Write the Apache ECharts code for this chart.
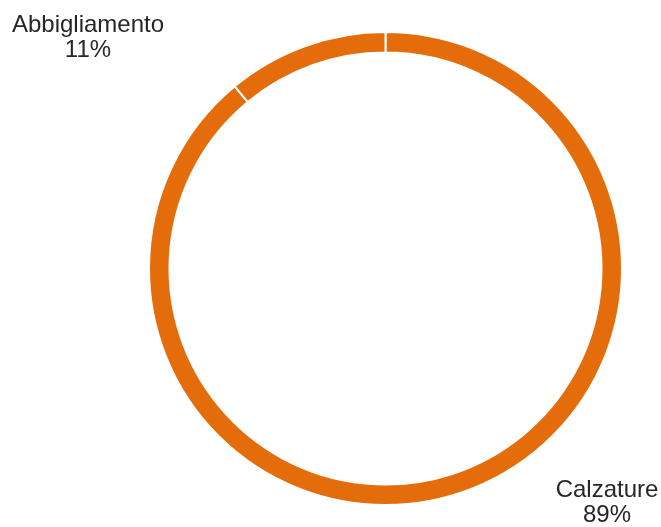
<!DOCTYPE html>
<html>
<head>
<meta charset="utf-8">
<script src="https://cdn.jsdelivr.net/npm/echarts@6/dist/echarts.min.js"></script>
<style>
  html, body { margin: 0; padding: 0; background: #fff; }
  #chart { width: 661px; height: 527px; }
</style>
</head>
<body>
<div id="chart"></div>
<script>
// categories and values (percent of total)
const categories = ['Calzature', 'Abbigliamento']
const values = [89, 11]

// where each label sits (Excel-style manual placement)
const labelSpots = [
  { x: 607, y: 503 },
  { x: 88, y: 38 },
]

let mychart = echarts.init(document.getElementById('chart'))
let option = {
  animation: false,
  series: [
    {
      type: 'pie',
      center: [385.5, 268.5],
      radius: [216, 236.5],
      startAngle: 90,
      clockwise: true,
      percentPrecision: 0,
      color: ['#E46C0A'],
      data: categories.map((name, i) => ({ name: name, value: values[i] })),
      itemStyle: {
        color: '#E46C0A',
        borderColor: '#ffffff',
        borderWidth: 2,
      },
      label: {
        show: true,
        formatter: '{b}\n{d}%',
        fontFamily: 'Liberation Sans, Arial, sans-serif',
        fontSize: 24,
        lineHeight: 25,
        color: '#262626',
        align: 'center',
      },
      labelLine: { show: false },
      labelLayout: function (params) {
        let spot = labelSpots[params.dataIndex]
        return {
          x: spot.x,
          y: spot.y,
          align: 'center',
          verticalAlign: 'middle',
        }
      },
      emphasis: { disabled: true },
    },
  ],
}
mychart.setOption(option)
</script>
</body>
</html>
